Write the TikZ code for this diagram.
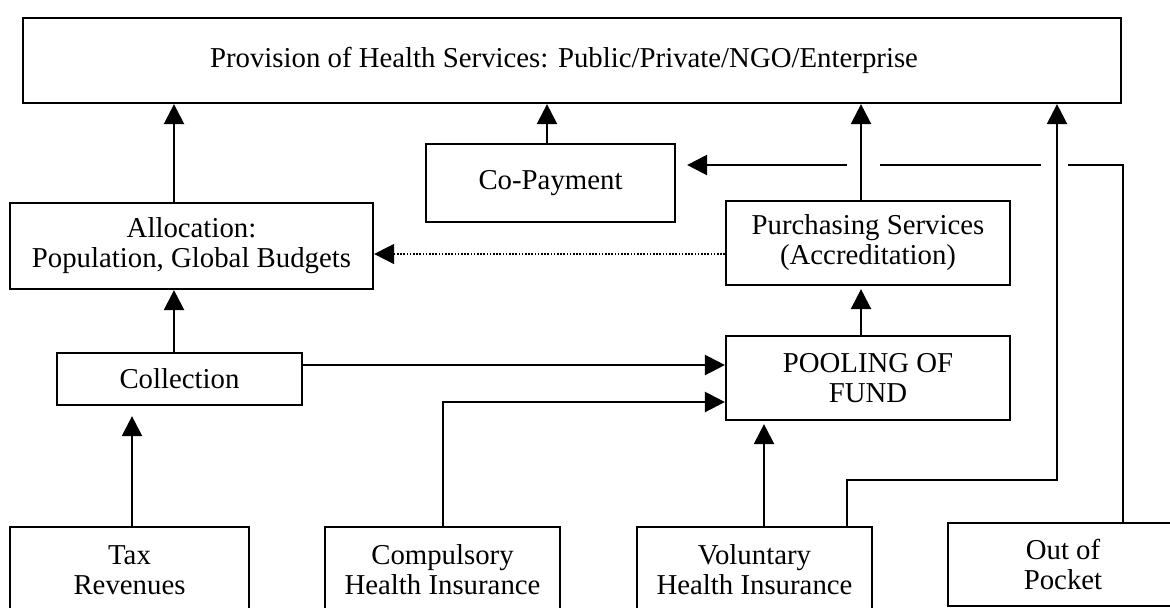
\documentclass[tikz,border=0pt]{standalone}
\usepackage{fontspec}
\setmainfont{Liberation Serif}
\usetikzlibrary{arrows.meta}
\begin{document}
\begin{tikzpicture}[x=0.5pt,y=-0.5pt,
  box/.style={draw, line width=1.1pt, inner sep=0pt, align=center,
    font=\fontsize{14.4}{15}\selectfont},
  dims/.style 2 args={minimum width=#1*0.5pt, minimum height=#2*0.5pt},
  link/.style={draw, line width=1.2pt},
  arr/.style={link, -{Triangle[length=10pt,width=10pt]}},
  dotarr/.style={draw, line width=0.7pt, dash pattern=on 0.8pt off 0.8pt,
    -{Triangle[length=10pt,width=10pt]}}]
\useasboundingbox (0,0) rectangle (1170,607);
\fill[white] (0,0) rectangle (1170,607);
\clip (0,0) rectangle (1170,607);

% boxes
\node[box, dims={1098}{85}] (top) at (572,60.5)
  {\hspace*{-8pt}Provision of Health Services: Public/Private/NGO/Enterprise};
\node[box, dims={363}{86}] (alloc) at (191.5,246)
  {Allocation:\\Population, Global Budgets};
\node[box, dims={249}{78}] (copay) at (550.5,183) {Co-Payment};
\node[box, dims={284}{84}] (purch) at (868,243)
  {Purchasing Services\\(Accreditation)};
\node[box, dims={284}{84}] (pool) at (868,378) {POOLING OF\\FUND};
\node[box, dims={245}{52}] (coll) at (179.5,379) {Collection};
\node[box, dims={239}{86}] (tax) at (129.5,570) {Tax\\Revenues};
\node[box, dims={235}{86}] (comp) at (442.5,570) {Compulsory\\Health Insurance};
\node[box, dims={235}{86}] (vol) at (754.5,570) {Voluntary\\Health Insurance};
\node[box, dims={230}{83}] (oop) at (1063,564.5) {Out of\\Pocket};

% connector columns and rows
\coordinate (xA) at (174,0);
\coordinate (xT) at (132,0);
\coordinate (xC) at (547,0);
\coordinate (xK) at (443,0);
\coordinate (xP) at (861,0);
\coordinate (xV) at (764,0);
\coordinate (xW) at (847,0);
\coordinate (xR) at (1057,0);
\coordinate (xO) at (1123,0);
\coordinate (yD) at (0,254);
\coordinate (yE) at (0,365);
\coordinate (yF) at (0,402);
\coordinate (yG) at (0,480);
\coordinate (yH) at (0,165);

% out of pocket to co-payment, broken where it crosses the risers
\draw[arr, shorten >=5.5pt] (oop.north -| xO) -- (xO |- yH) -- (copay.east |- yH);
\fill[white] (847,158) rectangle (880,172);
\fill[white] (1041,158) rectangle (1068,172);

% flows
\draw[arr] (alloc.north -| xA) -- (top.south -| xA);
\draw[arr] (coll.north -| xA) -- (alloc.south -| xA);
\draw[arr, shorten >=5pt] (tax.north -| xT) -- (coll.south -| xT);
\draw[arr] (copay.north -| xC) -- (top.south -| xC);
\draw[arr] (purch.north -| xP) -- (top.south -| xP);
\draw[arr, shorten >=1.5pt] (pool.north -| xP) -- (purch.south -| xP);
\draw[dotarr] (purch.west |- yD) -- (alloc.east |- yD);
\draw[arr] (coll.east |- yE) -- (pool.west |- yE);
\draw[arr] (comp.north -| xK) -- (xK |- yF) -- (pool.west |- yF);
\draw[arr, shorten >=1.5pt] (vol.north -| xV) -- (pool.south -| xV);
\draw[arr] (vol.north -| xW) -- (xW |- yG) -- (xR |- yG) -- (top.south -| xR);
\end{tikzpicture}
\end{document}
